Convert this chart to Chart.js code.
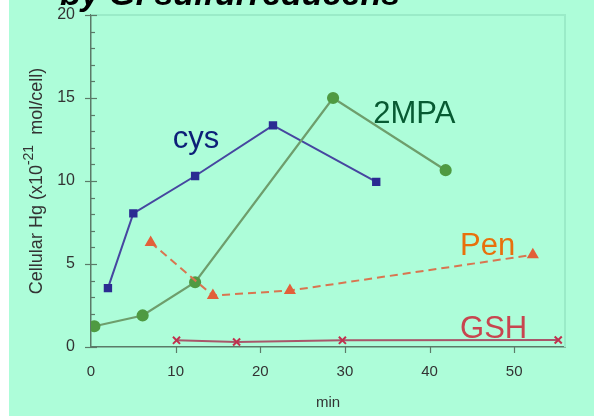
<!DOCTYPE html>
<html>
<head>
<meta charset="utf-8">
<script src="https://cdn.jsdelivr.net/npm/chart.js@4/dist/chart.umd.min.js"></script>
<style>
  html,body{margin:0;padding:0;background:#fff;}
  #wrap{width:594px;height:416px;position:relative;}
</style>
</head>
<body>
<div id="wrap"><canvas id="hgChart" width="594" height="416"></canvas></div>
<script>
// time (min) and cellular Hg (x10^-21 mol/cell)
const cysX  = [2, 5, 12.3, 21.5, 33.7];
const cysY  = [3.55, 8.05, 10.3, 13.35, 9.95];
const mpaX  = [0.4, 6.1, 12.3, 28.6, 41.9];
const mpaY  = [1.25, 1.9, 3.9, 15.0, 10.65];
const penX  = [7.05, 14.4, 23.5, 52.2];
const penY  = [6.3, 3.1, 3.4, 5.55];
const gshX  = [10.1, 17.2, 29.7, 55.2];
const gshY  = [0.4, 0.3, 0.4, 0.42];

const xTicks = [0, 10, 20, 30, 40, 50];
const yTicks = [0, 5, 10, 15, 20];

// series names placed inside the plot (data units, left/baseline)
const seriesLabels = [
  {text:'cys',  x:9.66,  y:12.0, color:'#0d1f78'},
  {text:'2MPA', x:33.35, y:13.5, color:'#075a32'},
  {text:'Pen',  x:43.6,  y:5.54, color:'#e8700c'},
  {text:'GSH',  x:43.6,  y:0.54, color:'#c8454f'}
];

const pts = (xs, ys) => xs.map((x, i) => ({x, y: ys[i]}));
const AXIS = '#5b7a68';

const decor = {
  id: 'decor',
  beforeDraw(chart){
    const {ctx, width, height} = chart;
    ctx.save();
    ctx.fillStyle = '#fff';
    ctx.fillRect(0, 0, 9, height);
    ctx.fillStyle = '#adfdd9';
    ctx.fillRect(9, 0, width - 9, height);
    ctx.restore();
  },
  beforeDatasetsDraw(chart){
    const {ctx, chartArea: a, scales: {x, y}} = chart;
    ctx.save();
    // faint frame top/right
    ctx.strokeStyle = '#9aebc8';
    ctx.lineWidth = 2;
    ctx.beginPath();
    ctx.moveTo(a.left, a.top); ctx.lineTo(a.right, a.top); ctx.lineTo(a.right, a.bottom);
    ctx.stroke();
    // y ticks: minor every 1, major every 5
    ctx.strokeStyle = AXIS;
    ctx.lineWidth = 1.2;
    for(let v = 0; v <= 20; v++){
      const py = Math.round(y.getPixelForValue(v)) + 0.5;
      ctx.beginPath();
      if(v % 5 === 0){ ctx.moveTo(a.left - 6, py); ctx.lineTo(a.left + 6, py); }
      else { ctx.moveTo(a.left, py); ctx.lineTo(a.left + 4, py); }
      ctx.stroke();
    }
    // x ticks
    xTicks.forEach(v => {
      if(v === 0) return;
      const px = Math.round(x.getPixelForValue(v)) + 0.5;
      ctx.beginPath(); ctx.moveTo(px, a.bottom); ctx.lineTo(px, a.bottom + 6); ctx.stroke();
    });
    ctx.restore();
  },
  afterDraw(chart){
    const {ctx, scales: {x, y}} = chart;
    ctx.save();
    // cut-off title at the top
    ctx.fillStyle = '#000';
    ctx.font = 'italic bold 34px "Liberation Sans", Arial, sans-serif';
    ctx.textBaseline = 'alphabetic';
    ctx.fillText('by G. sulfurreducens', 60, 5);
    // series labels
    ctx.font = '31px "Liberation Sans", Arial, sans-serif';
    seriesLabels.forEach(l => {
      ctx.fillStyle = l.color;
      ctx.fillText(l.text, x.getPixelForValue(l.x), y.getPixelForValue(l.y));
    });
    // y title with superscript
    ctx.translate(42, 181);
    ctx.rotate(-Math.PI / 2);
    ctx.fillStyle = '#333';
    const f1 = '18px "Liberation Sans", Arial, sans-serif';
    const f2 = '14px "Liberation Sans", Arial, sans-serif';
    const p1 = 'Cellular Hg (x10', p2 = '-21', p3 = '  mol/cell)';
    ctx.font = f1; const w1 = ctx.measureText(p1).width, w3 = ctx.measureText(p3).width;
    ctx.font = f2; const w2 = ctx.measureText(p2).width;
    let sx = -(w1 + w2 + w3) / 2;
    ctx.font = f1; ctx.fillText(p1, sx, 0); sx += w1;
    ctx.font = f2; ctx.fillText(p2, sx, -9); sx += w2;
    ctx.font = f1; ctx.fillText(p3, sx, 0);
    ctx.restore();
  }
};

const ctx = document.getElementById('hgChart');
new Chart(ctx, {
  type: 'scatter',
  data: {
    datasets: [
      {label:'GSH', data: pts(gshX, gshY), showLine:true, borderColor:'#a8566a', borderWidth:2,
       pointStyle:'crossRot', pointRadius:5, pointBorderColor:'#c0304e', pointBorderWidth:2},
      {label:'Pen', data: pts(penX, penY), showLine:true, borderColor:'#d97550', borderWidth:2, borderDash:[8,5],
       pointStyle:'triangle', pointRadius:5, pointBackgroundColor:'#e2603a', pointBorderColor:'#e2603a'},
      {label:'2MPA', data: pts(mpaX, mpaY), showLine:true, borderColor:'#6e9e6c', borderWidth:2.2,
       pointStyle:'circle', pointRadius:5, pointBackgroundColor:'#4f9a42', pointBorderColor:'#4f9a42'},
      {label:'cys', data: pts(cysX, cysY), showLine:true, borderColor:'#4646a0', borderWidth:2,
       pointStyle:'rect', pointRadius:4.5, pointBackgroundColor:'#2b2b92', pointBorderColor:'#2b2b92'}
    ]
  },
  options: {
    responsive: false,
    animation: false,
    layout: {padding: {left: 9, top: 15, right: 29, bottom: 0}},
    plugins: {legend: {display:false}, tooltip: {enabled:false}},
    scales: {
      x: {
        type: 'linear', min: 0, max: 56,
        afterBuildTicks: s => { s.ticks = xTicks.map(v => ({value: v})); },
        afterFit: s => { s.height = 69; s.paddingLeft = 0; s.paddingRight = 0; },
        grid: {color:'transparent', drawTicks:false},
        border: {display:true, color: AXIS, width: 1.5},
        ticks: {color:'#333', padding: 16, font:{size:15, family:'"Liberation Sans", Arial, sans-serif'}},
        title: {display:true, text:'min', color:'#333', padding:{top:11}, font:{size:15, family:'"Liberation Sans", Arial, sans-serif'}}
      },
      y: {
        type: 'linear', min: 0, max: 20,
        afterBuildTicks: s => { s.ticks = yTicks.map(v => ({value: v})); },
        afterFit: s => { s.width = 82; s.paddingTop = 0; s.paddingBottom = 0; },
        grid: {color:'transparent', drawTicks:false},
        border: {display:true, color: AXIS, width: 1.5},
        ticks: {color:'#333', padding: 16, font:{size:16, family:'"Liberation Sans", Arial, sans-serif'}}
      }
    }
  },
  plugins: [decor]
});
</script>
</body>
</html>
